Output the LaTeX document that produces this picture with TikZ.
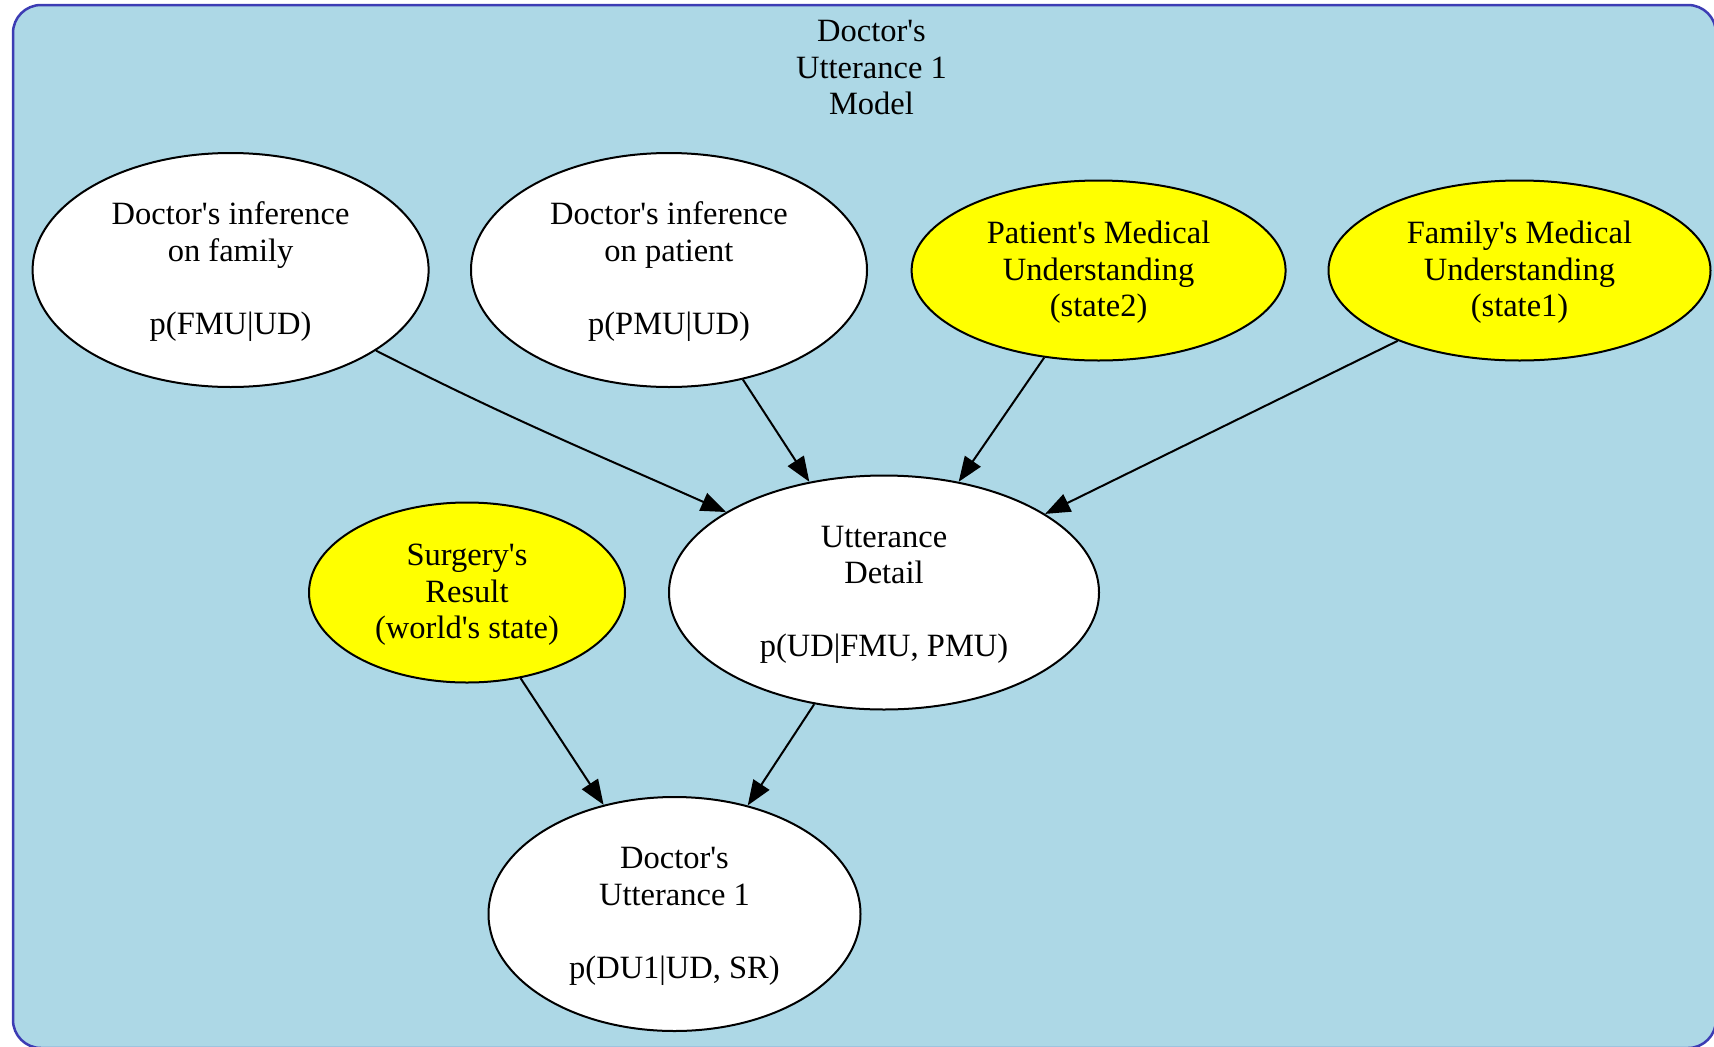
\documentclass[tikz,border=0pt]{standalone}
\usepackage{fontspec}
\setmainfont{Liberation Serif}[Ligatures=TeXOff]
\usetikzlibrary{shapes.geometric,arrows.meta}
\definecolor{clfill}{HTML}{ADD8E6}
\definecolor{clborder}{RGB}{60,60,180}
\definecolor{ylw}{RGB}{255,255,0}
\begin{document}
\begin{tikzpicture}[x=1pt,y=-1pt,
  every node/.style={font=\fontsize{32.5pt}{36.5pt}\selectfont, align=center, inner sep=0pt},
  bn/.style={ellipse, draw=black, line width=2pt, fill=white, text depth=6.5pt},
  obs/.style={bn, fill=ylw},
  edge/.style={line width=2pt, -{Triangle[length=25pt,width=19pt]}}]
\useasboundingbox (0,0) rectangle (1714,1047);
\draw[fill=clfill, draw=clborder, line width=2.5pt, rounded corners=28pt] (13,5) rectangle (1716,1048);
\node (title) at (871.5,71) {\strut Doctor's\\Utterance 1\\Model\strut};
\node[bn, minimum width=396pt, minimum height=234pt] (fi) at (230.6,270) {\strut Doctor's inference\\on family\\\mbox{}\\p(FMU|UD)\strut};
\node[bn, minimum width=396pt, minimum height=234pt] (pi) at (669,270) {\strut Doctor's inference\\on patient\\\mbox{}\\p(PMU|UD)\strut};
\node[obs, minimum width=374pt, minimum height=180pt] (pmu) at (1098.6,270.5) {\strut Patient's Medical\\Understanding\\(state2)\strut};
\node[obs, minimum width=382pt, minimum height=180pt] (fmu) at (1519.5,270.5) {\strut Family's Medical\\Understanding\\(state1)\strut};
\node[bn, minimum width=430pt, minimum height=234pt] (ud) at (884,592.5) {\strut Utterance\\Detail\\\mbox{}\\p(UD|FMU, PMU)\strut};
\node[obs, minimum width=316pt, minimum height=180pt] (sr) at (467,592.5) {\strut Surgery's\\Result\\(world's state)\strut};
\node[bn, minimum width=372pt, minimum height=234pt] (du) at (674.5,914) {\strut Doctor's\\Utterance 1\\\mbox{}\\p(DU1|UD, SR)\strut};
\draw[edge] (fi.-29) to[out=-27,in=156] (ud.153);
\draw[edge] (pi.-56) -- (ud.124);
\draw[edge] (pmu.-122) -- (ud.56);
\draw[edge] (fmu.-150) -- (ud.26);
\draw[edge] (sr.-58) -- (du.123);
\draw[edge] (ud.-122) -- (du.56);
\end{tikzpicture}
\end{document}
